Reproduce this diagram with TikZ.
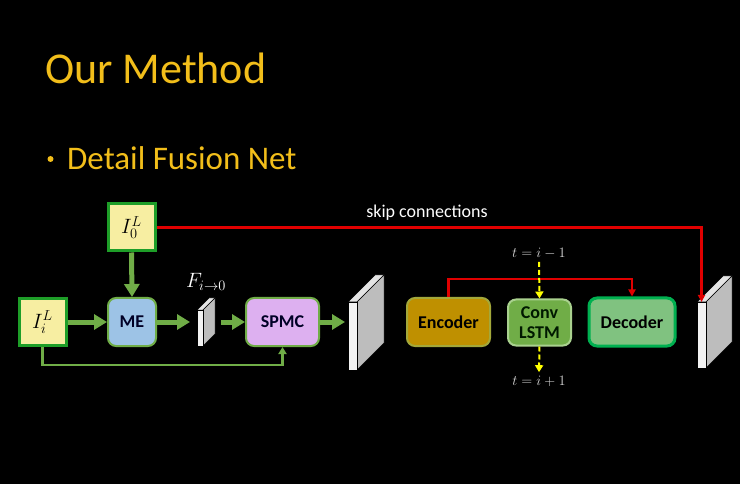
\documentclass[tikz,border=0pt]{standalone}
\usepackage{fontspec}
\setmainfont{Carlito}
\usetikzlibrary{arrows.meta,calc}
\definecolor{gold}{HTML}{F2BE1A}
\definecolor{garr}{HTML}{70AD47}
\definecolor{ibox}{HTML}{F7EEA2}
\definecolor{iborder}{HTML}{1E9E28}
\definecolor{mefill}{HTML}{9DC3E6}
\definecolor{spmcfill}{HTML}{DDB0F0}
\definecolor{encfill}{HTML}{BF9000}
\definecolor{encborder}{HTML}{A3A83A}
\definecolor{lstmfill}{HTML}{70AD47}
\definecolor{lstmborder}{HTML}{A9D18E}
\definecolor{decfill}{HTML}{80C280}
\definecolor{decborder}{HTML}{00B050}
\definecolor{redl}{HTML}{E00000}
\definecolor{yell}{HTML}{FFFF00}
\definecolor{slabfront}{HTML}{F2F2F2}
\definecolor{slabside}{HTML}{BDBDBD}
\definecolor{slabtop}{HTML}{E4E4E4}
\tikzset{
  ibx/.style={draw=iborder, line width=3pt, fill=ibox, minimum width=47pt, minimum height=47pt, inner sep=0pt, font=\fontsize{22}{24}\selectfont},
  blk/.style={rounded corners=8pt, line width=2pt, minimum height=48pt, inner sep=0pt, align=center, font=\fontsize{18}{19}\selectfont\bfseries},
  garrow/.style={draw=garr, line width=5pt, -{Triangle[length=13pt,width=15pt]}},
  gline/.style={draw=garr, line width=2.5pt, -{Triangle[length=7pt,width=8pt]}},
  rline/.style={draw=redl, line width=2.2pt, -{Triangle[length=7pt,width=7pt]}},
  yline/.style={draw=yell, line width=2pt, dash pattern=on 5pt off 3pt, -{Triangle[length=7pt,width=8pt]}},
  slabf/.style={inner sep=0pt, outer sep=0pt},
  face/.style={draw=black, line width=0.5pt}
}
\newcommand{\slab}[2]{% #1 node name, #2 depth
  \fill[slabtop,face] (#1.north west) -- ++(#2,-#2) -- ($(#1.north east)+(#2,-#2)$) -- (#1.north east) -- cycle;
  \fill[slabside,face] (#1.north east) -- ++(#2,-#2) -- ($(#1.south east)+(#2,-#2)$) -- (#1.south east) -- cycle;
  \fill[slabfront,face] (#1.north west) rectangle (#1.south east);
}
\begin{document}
\begin{tikzpicture}[x=1pt,y=-1pt]
\fill[black] (0,0) rectangle (740,484);
\useasboundingbox (0,0) rectangle (740,484);

\node[anchor=base west, text=gold, font=\fontsize{44}{48}\selectfont, inner sep=0pt] (title) at (45,84) {Our Method};
\fill[gold] (50.5,159) circle (3pt);
\node[anchor=base west, text=gold, font=\fontsize{33}{36}\selectfont, inner sep=0pt] (bullet) at (67,170) {Detail Fusion Net};

% boxes
\node[ibx] (i0) at (131.5,227.5) {$I_0^L$};
\node[ibx] (ii) at (42.5,322) {$I_i^L$};
\node[blk, draw=garr, fill=mefill, minimum width=48pt, text=black!85!blue] (me) at (132,322) {ME};
\node[blk, draw=garr, fill=spmcfill, minimum width=73pt, text=black!85!blue] (spmc) at (282.5,322) {SPMC};
\node[blk, draw=encborder, fill=encfill, minimum width=83pt, text=black] (enc) at (448.5,322) {Encoder};
\node[blk, draw=lstmborder, fill=lstmfill, minimum width=63pt, minimum height=46pt, text=black!90!green, font=\fontsize{18}{20}\selectfont\bfseries] (lstm) at (539.5,322.5) {Conv\\LSTM};
\node[blk, draw=decborder, line width=3pt, fill=decfill, minimum width=86pt, text=black] (dec) at (632,322) {Decoder};

% slabs
\node[slabf, minimum width=6pt, minimum height=36pt] (f1) at (200,328) {};
\slab{f1}{12}
\node[slabf, minimum width=9pt, minimum height=68pt] (f2) at (352.5,336) {};
\slab{f2}{27}
\node[slabf, minimum width=9pt, minimum height=66pt] (f3) at (701.5,335) {};
\slab{f3}{26}

% labels
\node[text=white, font=\fontsize{21}{22}\selectfont] (flab) at (206,282) {$F_{i\to 0}$};
\node[text=white, font=\fontsize{18}{20}\selectfont] (skip) at (427,213) {skip connections};
\node[text=white!85!black, font=\fontsize{14}{16}\selectfont] (tm) at (539,253) {$t = i - 1$};
\node[text=white!85!black, font=\fontsize{14}{16}\selectfont] (tp) at (539,381) {$t = i + 1$};

% green arrows
\draw[garrow] (i0.south) -- (me.north);
\draw[garrow] (ii.east) -- (me.west);
\draw[garrow, shorten >=7pt] (me.east) -- (me.east -| f1.west);
\draw[garrow] (me.east -| 221,0) -- (spmc.west);
\draw[garrow, shorten >=3pt] (spmc.east) -- (spmc.east -| f2.west);
\draw[gline] (ii.south) -- ++(0,18) -| (spmc.south);

% red lines
\draw[rline] (i0.east) -| (f3.north);
\draw[rline] (enc.north) -- ++(0,-18) -| (dec.north);

% yellow dashed
\draw[yline] (tm.south) -- (lstm.north);
\draw[yline] (lstm.south) -- (tp.north);
\end{tikzpicture}
\end{document}
